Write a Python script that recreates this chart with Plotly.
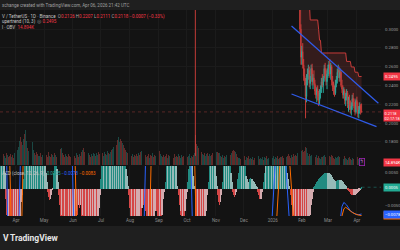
import pandas as pd
import plotly.graph_objects as go

# ---------------- data ----------------
START = "2025-03-15"          # first daily bar (day index 0)

# daily volume (K) for day 0..387
vol_k = [
    62, 48, 71, 55, 80, 66, 52, 90, 74, 58, 69, 85, 61, 77, 54, 92, 70,
    84, 96, 110, 132, 180, 205, 168, 150, 190, 230, 259, 175, 124, 102, 118, 95, 140, 155, 170, 108, 88, 76, 98, 82,
    70, 64, 88, 58, 76, 92, 66, 54, 80, 72, 61, 95, 68, 57, 83, 74, 62, 90, 71, 59, 86, 77, 65, 99, 120, 126, 88, 73, 60, 84, 70, 56, 79, 67, 58,
    64, 75, 58, 82, 69, 55, 91, 73, 62, 85, 70, 96, 110, 126, 94, 72, 60, 80, 67, 88, 74, 59, 83, 69, 92, 78, 63, 86, 71, 97,
    82, 96, 74, 104, 88, 70, 99, 85, 77, 102, 90, 81, 95, 108, 115,
    130, 160, 274, 190, 150, 185, 207, 170, 196, 180, 165, 150, 128, 112, 98,
    86, 72, 64, 79, 58, 70, 84, 61, 75, 66,
    80, 69, 90, 73, 95, 104, 111, 88, 71, 63,
    77, 58, 68, 82, 55, 72, 64, 86, 60, 74,
    69, 81, 92, 98, 90, 104, 85, 70, 62, 76,
    58, 67, 80, 54, 71, 63, 88, 59, 73, 66,
    52, 78, 61, 70, 57, 84, 64, 49, 72, 60,
    68, 55, 82, 63, 74, 58, 66, 79, 53, 70,
    62, 75, 88,
    222,
    155, 140, 125, 118, 132, 105, 96,
    80, 72, 88, 66, 78, 92, 70, 84, 63, 76, 90, 74, 68, 82, 71, 96, 98, 92, 86,
    66, 58, 72, 54, 69, 62, 75, 57, 70, 64, 60, 73, 88, 100, 111, 104, 96, 78, 62, 55,
    52, 44, 61, 38, 55, 47, 63, 40, 58, 49, 66, 42, 54, 45, 60, 37, 51, 62, 44, 57,
    48, 65, 41, 53, 46, 59, 39, 56, 50, 64, 43, 52, 47, 60, 38, 55, 49, 63, 44, 58,
    51, 67, 46, 54, 60,
    58, 66, 52, 70, 61, 74, 57, 68, 79, 63, 55, 72, 60, 84, 66, 76, 70, 88, 95,
    104, 118, 126,
    100, 111, 96, 104, 133, 126, 88, 70, 82, 64, 76, 69, 58, 52, 66, 61, 72, 55, 68, 49, 44, 60, 57, 65, 74, 62, 53, 48,
    58, 66, 70, 61, 73, 64, 50, 43, 59, 55, 62, 68, 57, 46, 41, 52, 60, 48, 63, 55, 44, 38, 50, 57, 46, 40, 52, 44, 36, 42, 55,
    47, 58, 44, 35, 30, 14.894,
]

# up/down of days 0..319 (before the candles below)
vol_dir_pre = (
    "udduduudud" "dduddudddu" "uudduuduud" "uduuduudud" "duuddududd" "dddudduudu"
    "dduddduddd" "ududdduddu" "ddudduddud" "duudduddud" "uuduudduuu" "duuduuduud"
    "uuduudduud" "duddduddud" "ddudduddud" "dudduddudd" "uddudduuud" "uduudduddu"
    "dudduuddud" "duduuddudu" "uduududdud" "duduudduud" "uudduudddu" "ddudduuduu"
    "duuduuddud" "ddudduuduu" "duduudduud" "uddudduudu" "uuduuduudu" "uduuduudud"
    "dudduddudd" "ddudduddud"
)

# MACD histogram (x0.001) for day 0..387
hist_milli = [
    12, 14, 13, 15, 9, 5,
    -3, -8, -12, -11, -15, -18, -17, -20, -21, -19, -20, -16, -17, -13, -14, -10, -7, -4, -2,
    3, 7, 11, 15, 14, 18, 20, 19, 22, 21, 23, 20, 21, 17, 18, 14, 15, 11, 12, 10, 11, 9, 10, 7, 5, 2,
    -1, -2.5, -3.5, -3, -2, -0.5,
    2, 5, 8, 9, 6, 2,
    -2, -5, -9, -8, -13, -17, -16, -20, -22, -21,
    -23, -20, -21, -17, -18, -13, -14, -10, -11, -7,
    -8, -5, -6, -5, -7, -9, -8, -12, -15, -14,
    -19, -22, -21, -25, -24, -26, -22, -23, -18, -19,
    -14, -15, -10, -6, -2,
    3, 8, 14, 12, 20, 26, 24, 30, 33, 31, 35, 32, 34, 28, 30, 24, 26, 20, 22, 16, 18, 14, 15, 11, 12, 9, 10, 6, 4, 1,
    -2, -6, -10, -9, -14, -17, -16, -20, -19, -16, -17, -12, -9, -10, -6, -4.5, -5, -4.5, -7, -9,
    -12, -11, -15, -17, -16, -13, -14, -9, -7, -6, -7, -9, -11, -10, -11, -8, -6, -3, -1,
    2, 5, 8, 7, 11, 13, 12, 14, 13, 10, 11, 7, 4, 1,
    -2, -5, -8, -7, -11, -10, -11, -7, -3, -1,
    2, 6, 9, 10, 9, 7, 4, 1,
    -6, -14, -22, -20, -28, -30, -27, -28, -23, -24, -18, -13, -7, -2,
    2, 5, 8, 7, 11, 10, 11, 8, 4, 1,
    -2, -4, -5, -4, -2,
    2, 5, 8, 7, 11, 10, 12, 9, 10, 5, 2,
    -1, -2, -2.5, -2, -1,
    1, 3, 5, 7, 9, 8, 10, 8, 9, 4, 3, 2, 2, 3, 3.4, 3.2, 3, 2.5, 2, 1.5, 1, 0.5,
    -1, -2, -3, -3, -2, -1,
    2, 5, 9, 8, 13, 17, 16, 20, 22, 21, 24, 23, 24, 20, 21, 17, 18, 14, 15, 11, 12, 9, 10, 7, 8, 5, 3, 1, 0.2,
    -2, -5, -9, -8, -14, -19, -18, -24, -28, -27, -31, -32, -30, -31, -26, -27, -21, -22, -17, -14, -11, -8, -5, -3, -1,
    0.5, 1, 1.5, 2, 2.5, 3, 3.3, 3.6, 3.9, 4.2, 4.4, 4.6, 4.8, 4.9, 5, 5, 4.9, 4.6, 4.2, 3.8,
    3.4, 3, 2.6, 2.4, 2.3, 2.4, 2.6, 2.8, 2.8, 2.6, 2.3, 2, 1.6, 1.2, 0.8, 0.3,
    -0.3, -0.6, -1, -1.3, -1.6, -1.8, -1.9, -1.9, -1.8, -1.6, -1.3, -1, -0.6, -0.3, 0.2, 0.5,
]

# MACD line / signal (x0.001) read at day indices (mostly off-pane)
macd_day = [0, 6, 9, 19, 23, 76, 80, 153, 157, 203, 207, 288, 298, 302, 313, 360, 362, 366, 368, 371, 375, 380, 384, 387]
macd_val = [25, 25, -25, -25, 25, 25, -25, -25, 25, 25, -25, -25, 25, 25, -25, -25, -14, -5.5, -4.2, -5, -6.8, -7.8, -8.0, -7.8]
sig_day = [0, 9, 13, 22, 26, 79, 83, 159, 163, 207, 211, 293, 303, 306, 318, 362, 365, 368, 370, 373, 377, 382, 387]
sig_val = [25, 25, -25, -25, 25, 25, -25, -25, 25, 25, -25, -25, 25, 25, -25, -25, -9.5, -6.2, -5.7, -6.3, -7.3, -8.0, -8.3]

# candles: Oct 10 2025 crash bar + daily Jan 29 .. Apr 6 2026
candle_first = "2025-10-10"
run_start, run_end = "2026-01-29", "2026-04-06"
c_open = [0.400,
    0.360, 0.335, 0.300, 0.270, 0.276, 0.262, 0.250, 0.244, 0.228, 0.248, 0.252, 0.256, 0.242, 0.246, 0.258, 0.244,
    0.248, 0.242, 0.234, 0.230, 0.236, 0.228, 0.224, 0.232, 0.236, 0.244, 0.240, 0.248, 0.258, 0.250, 0.244,
    0.252, 0.258, 0.262, 0.252, 0.260, 0.244, 0.238, 0.236, 0.232, 0.242, 0.246, 0.254, 0.256, 0.248, 0.254, 0.240,
    0.236, 0.230, 0.234, 0.224, 0.228, 0.232, 0.220, 0.224, 0.218, 0.214, 0.218, 0.226, 0.222, 0.216, 0.212,
    0.224, 0.218, 0.210, 0.214, 0.218, 0.2126]
c_high = [0.420,
    0.365, 0.340, 0.305, 0.282, 0.285, 0.268, 0.258, 0.248, 0.252, 0.258, 0.262, 0.260, 0.250, 0.262, 0.263, 0.252,
    0.256, 0.246, 0.240, 0.238, 0.240, 0.234, 0.236, 0.240, 0.248, 0.252, 0.250, 0.262, 0.264, 0.258, 0.256,
    0.262, 0.266, 0.268, 0.264, 0.262, 0.250, 0.244, 0.240, 0.246, 0.250, 0.258, 0.262, 0.260, 0.258, 0.256, 0.246,
    0.240, 0.238, 0.236, 0.232, 0.236, 0.234, 0.228, 0.230, 0.224, 0.222, 0.230, 0.232, 0.226, 0.222, 0.226,
    0.228, 0.222, 0.218, 0.222, 0.220, 0.2207]
c_low = [0.165,
    0.330, 0.295, 0.262, 0.262, 0.258, 0.245, 0.240, 0.205, 0.222, 0.240, 0.246, 0.238, 0.236, 0.244, 0.240, 0.236,
    0.240, 0.230, 0.226, 0.222, 0.224, 0.218, 0.220, 0.226, 0.232, 0.238, 0.232, 0.244, 0.246, 0.240, 0.236,
    0.248, 0.250, 0.248, 0.246, 0.240, 0.234, 0.230, 0.228, 0.230, 0.238, 0.242, 0.248, 0.244, 0.244, 0.238, 0.232,
    0.226, 0.226, 0.220, 0.218, 0.224, 0.216, 0.212, 0.214, 0.210, 0.208, 0.214, 0.218, 0.212, 0.208, 0.210,
    0.214, 0.206, 0.205, 0.210, 0.209, 0.2111]
c_close = [0.360,
    0.335, 0.300, 0.270, 0.276, 0.262, 0.250, 0.244, 0.228, 0.248, 0.252, 0.256, 0.242, 0.246, 0.258, 0.244, 0.248,
    0.242, 0.234, 0.230, 0.236, 0.228, 0.224, 0.232, 0.236, 0.244, 0.240, 0.248, 0.258, 0.250, 0.244, 0.252,
    0.258, 0.262, 0.252, 0.260, 0.244, 0.238, 0.236, 0.232, 0.242, 0.246, 0.254, 0.256, 0.248, 0.254, 0.240, 0.236,
    0.230, 0.234, 0.224, 0.228, 0.232, 0.220, 0.224, 0.218, 0.214, 0.218, 0.226, 0.222, 0.216, 0.212, 0.224,
    0.218, 0.210, 0.214, 0.218, 0.2125, 0.2118]

# Supertrend (10, 3) upper band, Jan 29 .. Apr 6 2026
supertrend = ([0.360, 0.350, 0.345, 0.345, 0.340, 0.340, 0.335, 0.335, 0.330, 0.330, 0.330, 0.330]
              + [0.3096] * 9 + [0.2995] + [0.288] * 2 + [0.2745] * 27
              + [0.2655] * 5 + [0.2596] * 4 + [0.254] * 4 + [0.2495] * 4)

# falling-wedge trend lines (drawings)
tl_upper_dates = ["2026-01-21", "2026-04-24"]
tl_upper_price = [0.3032, 0.2210]
tl_lower_dates = ["2026-01-21", "2026-04-22"]
tl_lower_price = [0.2309, 0.1961]

price_ticks = [0.18, 0.20, 0.22, 0.24, 0.26, 0.28, 0.30]
month_ticks = ["2025-04-01", "2025-05-01", "2025-06-01", "2025-07-01", "2025-08-01", "2025-09-01",
               "2025-10-01", "2025-11-01", "2025-12-01", "2026-01-01", "2026-02-01", "2026-03-01", "2026-04-01"]
month_labels = ["Apr", "May", "Jun", "Jul", "Aug", "Sep", "Oct", "Nov", "Dec", "2026", "Feb", "Mar", "Apr"]
x_range = ["2025-03-14 21:00", "2026-04-26 19:00"]
price_range = [0.15532, 0.32021]
macd_range = [-0.00841, 0.00707]
vol_range = [0, 1147]

last_price = 0.2118
st_last = 0.2495
vol_last = 14.894
hist_last, macd_last, sig_last = 0.0005, -0.0078, -0.0083

# ---------------- build ----------------
base = pd.Timestamp(START)
days = base + pd.to_timedelta(range(len(vol_k)), unit="D")
run_dates = pd.date_range(run_start, run_end, freq="D")
cdates = [pd.Timestamp(candle_first)] + list(run_dates)

UP, DN = "#26a69a", "#c23b38"
n_pre = len(vol_dir_pre)
vol_colors = []
for i in range(len(vol_k)):
    if i < n_pre:
        up = vol_dir_pre[i] == "u"
    else:
        j = i - n_pre + 1
        up = c_close[j] >= c_open[j]
    vol_colors.append("rgba(38,166,154,0.36)" if up else "rgba(239,83,80,0.36)")

hist = [v * 0.001 for v in hist_milli]
hist_colors = []
for i, v in enumerate(hist):
    prev = hist[i - 1] if i else v
    if v >= 0:
        hist_colors.append("#26A69A" if v > prev else "#B2DFDB")
    else:
        hist_colors.append("#FF5252" if v < prev else "#FFCDD2")

mids = [(o + c) / 2 for o, c in zip(c_open[1:], c_close[1:])]
DAY_MS = 86400000

fig = go.Figure()

# supertrend band
fig.add_trace(go.Scatter(x=run_dates, y=supertrend, mode="lines",
                         line=dict(color="#c73c3a", width=1), xaxis="x", yaxis="y", hoverinfo="skip"))
fig.add_trace(go.Scatter(x=run_dates, y=mids, mode="lines", line=dict(width=0),
                         fill="tonexty", fillcolor="rgba(239,83,80,0.15)", xaxis="x", yaxis="y", hoverinfo="skip"))

# trend lines
fig.add_trace(go.Scatter(x=tl_upper_dates, y=tl_upper_price, mode="lines",
                         line=dict(color="#2f5bea", width=1.2), xaxis="x", yaxis="y"))
fig.add_trace(go.Scatter(x=tl_lower_dates, y=tl_lower_price, mode="lines",
                         line=dict(color="#2f5bea", width=1.2), xaxis="x", yaxis="y"))

# candles
fig.add_trace(go.Candlestick(
    x=cdates, open=c_open, high=c_high, low=c_low, close=c_close, xaxis="x", yaxis="y",
    increasing=dict(line=dict(color=UP, width=1), fillcolor=UP),
    decreasing=dict(line=dict(color=DN, width=1), fillcolor=DN),
    whiskerwidth=0))

# volume
fig.add_trace(go.Bar(x=days, y=vol_k, marker=dict(color=vol_colors, line=dict(width=0)),
                     width=0.8 * DAY_MS, xaxis="x", yaxis="y2"))

# MACD
fig.add_trace(go.Bar(x=days, y=hist, marker=dict(color=hist_colors, line=dict(width=0)),
                     opacity=0.82, width=0.7 * DAY_MS, xaxis="x2", yaxis="y3"))
fig.add_trace(go.Scatter(x=base + pd.to_timedelta(macd_day, unit="D"), y=[v * 0.001 for v in macd_val],
                         mode="lines", line=dict(color="#2962FF", width=1), xaxis="x2", yaxis="y3"))
fig.add_trace(go.Scatter(x=base + pd.to_timedelta(sig_day, unit="D"), y=[v * 0.001 for v in sig_val],
                         mode="lines", line=dict(color="#FF6D00", width=1), xaxis="x2", yaxis="y3"))

W, H = 400, 250
XR = 381 / W
FONT = "Roboto, Liberation Sans, sans-serif"
GRID = "#1b1b1b"


def py(ypx):
    return 1 - ypx / H


fig.update_layout(
    width=W, height=H, margin=dict(l=0, r=0, t=0, b=0),
    paper_bgcolor="#131313", plot_bgcolor="#131313",
    showlegend=False, bargap=0,
    font=dict(family=FONT, size=4.5, color="#9a9a9a"),
    xaxis=dict(domain=[0, XR], range=x_range, anchor="y", showticklabels=False,
               tickvals=month_ticks, showgrid=True, gridcolor=GRID, gridwidth=1,
               zeroline=False, showline=False, rangeslider=dict(visible=False)),
    xaxis2=dict(domain=[0, XR], range=x_range, anchor="y3", matches="x",
                tickvals=month_ticks, ticktext=month_labels, ticks="", ticklen=0,
                tickfont=dict(size=4.5, color="#8c8c8c"),
                showgrid=True, gridcolor=GRID, zeroline=False, showline=False),
    yaxis=dict(domain=[py(165), py(10)], range=price_range, side="right", anchor="x",
               tickvals=price_ticks, ticktext=[f"{v:.4f}" for v in price_ticks],
               tickfont=dict(size=4.3, color="#9a9a9a"), ticks="", ticklabelstandoff=3,
               showgrid=True, gridcolor=GRID, zeroline=False, showline=False),
    yaxis2=dict(overlaying="y", range=vol_range, visible=False, showgrid=False),
    yaxis3=dict(domain=[py(216), py(166)], range=macd_range, side="right", anchor="x2",
                tickvals=[0.005, -0.005], ticktext=["0.0050", "\u22120.0050"],
                tickfont=dict(size=4.3, color="#9a9a9a"), ticks="", ticklabelstandoff=3,
                showgrid=False, zeroline=False, showline=False),
)

shapes = [
    dict(type="rect", xref="paper", yref="paper", x0=0, x1=1, y0=py(10), y1=1,
         fillcolor="#1f1f1f", line=dict(width=0)),
    dict(type="rect", xref="paper", yref="paper", x0=0, x1=1, y0=0, y1=py(226),
         fillcolor="#1f1f1f", line=dict(width=0)),
    dict(type="line", xref="paper", yref="y", x0=0, x1=XR, y0=last_price, y1=last_price,
         line=dict(color="rgba(239,83,80,0.45)", width=0.7, dash="dot")),
    dict(type="line", xref="x2", yref="y3", x0=run_end, x1=x_range[1], y0=hist_last, y1=hist_last,
         line=dict(color="rgba(38,166,154,0.6)", width=0.7, dash="dot")),
]
fig.update_layout(shapes=shapes)

GR = "#a8a8a8"
RD = "#f23645"


def sp(t, c):
    return f"<span style='color:{c}'>{t}</span>"


ann = []


def txt(x, y, text, size=4.5, color=GR, **kw):
    ann.append(dict(xref="paper", yref="paper", x=x / W, y=py(y), text=text, showarrow=False,
                    xanchor="left", yanchor="middle", font=dict(size=size, color=color, family=FONT), **kw))


txt(0, 5.5, "xchange created with TradingView.com, Apr 06, 2026 21:42 UTC", color="#a0a0a0")
txt(0, 16, "V / TetherUS · 1D · Binance  " + sp("O", GR) + sp("0.2126", RD) + " " + sp("H", GR) + sp("0.2207", RD)
    + " " + sp("L", GR) + sp("0.2111", RD) + " " + sp("C", GR) + sp("0.2118", RD) + " "
    + sp("\u22120.0007 (\u22120.33%)", RD), color="#c8c8c8")
txt(0, 22, "upertrend (10, 3)  " + sp("\u25ce", "#8a8a8a") + " " + sp(f"{st_last:.4f}", RD), color="#c8c8c8")
txt(0, 28, "l · OBV  " + sp(f"{vol_last:.3f}K", RD), color="#c8c8c8")
txt(0, 173, "ACD (close, 12, 26, 9)  " + sp("0.0005", "#26a69a") + " " + sp("\u22120.0078", "#2962ff")
    + " " + sp("\u22120.0083", "#ff6d00"), color="#c8c8c8")
txt(0.5, 238, "<b>V</b>", size=8.5, color="#e6e6e6")
txt(8, 238, "<b>TradingView</b>", size=8.5, color="#e6e6e6")

TAG_X = (XR * W + 1.5) / W


def tag(y, yref, text, bg):
    ann.append(dict(xref="paper", yref=yref, x=TAG_X, y=y, text=text, showarrow=False,
                    xanchor="left", yanchor="middle", bgcolor=bg, borderpad=1,
                    font=dict(size=4.2, color="#ffffff", family=FONT)))


tag(st_last, "y", f"{st_last:.4f}", RD)
ann.append(dict(xref="paper", yref="y", x=TAG_X, y=last_price, yshift=3, text="0.2118<br>02:17:18",
                showarrow=False, xanchor="left", yanchor="top", bgcolor=RD, borderpad=0.6, align="left",
                font=dict(size=3.9, color="#ffffff", family=FONT)))
tag(vol_last, "y2", f"{vol_last:.3f}K", RD)
tag(hist_last, "y3", f"{hist_last:.4f}", "#22ab94")
tag(sig_last, "y3", "\u22120.0083", "#ff6d00")
tag(macd_last, "y3", "\u22120.0078", "#2962ff")
ann.append(dict(xref="x", yref="y2", x=run_end, y=22, text="\u03df", showarrow=False,
                font=dict(size=4.5, color="#c77ddb", family=FONT), bordercolor="#9c27b0",
                borderwidth=0.8, borderpad=0.6, bgcolor="#1a1320"))

fig.update_layout(annotations=ann)
fig.write_html("out.html")
